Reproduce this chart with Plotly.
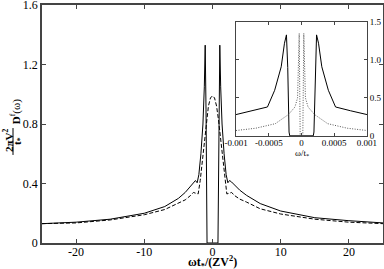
import plotly.graph_objects as go

# main panel: spectral function vs w t*/(Z V^2)
solid_x = [-25, -20, -15, -10, -7, -5, -4, -3.2, -2.8, -2.5, -2.25, -2.0, -1.7, -1.4, -1.2, -1.07,
           -0.95, -0.85, -0.8, 0.8, 0.85, 0.95, 1.07, 1.2, 1.4, 1.7, 2.0, 2.25, 2.5, 2.8, 3.2, 4,
           5, 7, 10, 15, 20, 25]
solid_y = [0.13, 0.14, 0.16, 0.2, 0.245, 0.3, 0.34, 0.385, 0.41, 0.42, 0.405, 0.46, 0.6, 0.8, 1.05, 1.33,
           0.9, 0.3, 0.0, 0.0, 0.3, 0.9, 1.33, 1.05, 0.8, 0.6, 0.46, 0.405, 0.42, 0.41, 0.39, 0.355,
           0.32, 0.265, 0.215, 0.17, 0.15, 0.135]

dash_x = [-25, -20, -15, -10, -7, -5, -4, -3.2, -2.8, -2.5, -2.1, -1.8, -1.5, -1.2, -0.9, -0.6, -0.3, 0,
          0.3, 0.6, 0.9, 1.2, 1.5, 1.8, 2.1, 2.5, 2.8, 3.2, 4, 5, 7, 10, 15, 20, 25]
dash_y = [0.13, 0.135, 0.155, 0.19, 0.225, 0.27, 0.29, 0.32, 0.34, 0.335, 0.33, 0.42, 0.55, 0.7, 0.82, 0.92, 0.975, 0.99,
          0.975, 0.92, 0.82, 0.7, 0.55, 0.42, 0.33, 0.335, 0.34, 0.32, 0.295, 0.275, 0.23, 0.195, 0.16, 0.14, 0.13]

# inset: w/t* close to zero
ins_solid_x = [-0.001, -0.00075, -0.00052, -0.00041, -0.00031, -0.00026, -0.00023, -0.00021, -0.0002,
               -0.00019, -0.00018, 0.00018, 0.00019, 0.0002, 0.00021, 0.00023, 0.00026, 0.00031,
               0.00041, 0.00052, 0.00075, 0.001]
ins_solid_y = [0.28, 0.33, 0.38, 0.6, 0.91, 1.22, 1.33, 0.9, 0.4, 0.05, 0.0, 0.0, 0.05, 0.4, 0.9,
               1.33, 1.22, 0.91, 0.6, 0.38, 0.33, 0.28]

ins_dot_x = [-0.001, -0.0007, -0.0004, -0.0002, -0.0001, -0.00006, -0.000035, -0.00002, 0.00002,
             0.000035, 0.00006, 0.0001, 0.0002, 0.0004, 0.0007, 0.001]
ins_dot_y = [0.07, 0.1, 0.16, 0.28, 0.38, 0.5, 1.35, 0.0, 0.0, 1.35, 0.5, 0.38, 0.28, 0.16, 0.1, 0.07]

main_xticks = [-20, -10, 0, 10, 20]
main_xlabels = ["-20", "-10", "0", "10", "20"]
main_yticks = [0, 0.4, 0.8, 1.2, 1.6]
main_ylabels = ["0", "0.4", "0.8", "1.2", "1.6"]
ins_xticks = [-0.001, -0.0005, 0, 0.0005, 0.001]
ins_xlabels = ["-0.001", "-0.0005", "0", "0.0005", "0.001"]
ins_yticks = [0, 0.5, 1, 1.5]
ins_ylabels = ["0", "0.5", "1.0", "1.5"]

FONT = "Liberation Serif"
AX = "#444"

fig = go.Figure()
fig.add_trace(go.Scatter(x=solid_x, y=solid_y, mode='lines', line=dict(color='black', width=1)))
fig.add_trace(go.Scatter(x=dash_x, y=dash_y, mode='lines', line=dict(color='black', width=1, dash='4px,2px')))
fig.add_trace(go.Scatter(x=ins_solid_x, y=ins_solid_y, mode='lines', xaxis='x2', yaxis='y2',
                         line=dict(color='black', width=1)))
fig.add_trace(go.Scatter(x=ins_dot_x, y=ins_dot_y, mode='lines', xaxis='x2', yaxis='y2',
                         line=dict(color='#555', width=1, dash='1px,1.5px')))

fig.update_layout(
    width=384, height=269, showlegend=False,
    margin=dict(l=42, r=1, t=5, b=26),
    plot_bgcolor='white', paper_bgcolor='white',
    font=dict(family=FONT, color='black', size=12),
    xaxis=dict(range=[-25, 25], tickvals=main_xticks, ticktext=main_xlabels, ticks='inside', ticklen=4,
               mirror='ticks', showline=True, linecolor=AX, linewidth=1.5, showgrid=False, zeroline=False,
               tickfont=dict(size=12), automargin=False, ticklabelstandoff=-3),
    yaxis=dict(range=[0, 1.6001], tickvals=main_yticks, ticktext=main_ylabels, ticks='inside', ticklen=4,
               mirror='ticks', showline=True, linecolor=AX, linewidth=1.5, showgrid=False, zeroline=False,
               tickfont=dict(size=12), automargin=False, ticklabeloverflow='allow'),
    xaxis2=dict(domain=[0.569, 0.953], anchor='y2', range=[-0.001, 0.001], tickvals=ins_xticks,
                ticktext=ins_xlabels, ticks='inside', ticklen=3, mirror='ticks', showline=True,
                linecolor=AX, linewidth=1, showgrid=False, zeroline=False, tickfont=dict(size=9),
                automargin=False, ticklabelstandoff=-2),
    yaxis2=dict(domain=[0.45, 0.929], anchor='x2', side='right', range=[-0.001, 1.501], tickvals=ins_yticks,
                ticktext=ins_ylabels, ticks='inside', ticklen=3, mirror='ticks', showline=True,
                linecolor=AX, linewidth=1, showgrid=False, zeroline=False, tickfont=dict(size=9),
                automargin=False, ticklabeloverflow='allow'),
)

# axis titles as annotations
fig.add_annotation(x=0.5, y=-0.082, xref='paper', yref='paper', showarrow=False, xanchor='center',
                   yanchor='middle', text='<b>ωt<sub>*</sub>/(ZV<sup>2</sup>)</b>', font=dict(size=12))
fig.add_annotation(x=0.761, y=0.378, xref='paper', yref='paper', showarrow=False, xanchor='center',
                   yanchor='middle', text='ω/t<sub>*</sub>', font=dict(size=9))
fig.add_annotation(x=-0.0997, y=0.4286, xref='paper', yref='paper', showarrow=False, textangle=-90,
                   xanchor='center', yanchor='middle', text='<b>2πV<sup>2</sup></b>', font=dict(size=11))
fig.add_annotation(x=-0.0704, y=0.4286, xref='paper', yref='paper', showarrow=False, textangle=-90,
                   xanchor='center', yanchor='middle', text='<b>t<sub>*</sub></b>', font=dict(size=11))
fig.add_annotation(x=-0.079, y=0.55, xref='paper', yref='paper', showarrow=False, textangle=-90,
                   xanchor='center', yanchor='middle', text='<b>D</b><sup>f</sup>(ω)', font=dict(size=11))
fig.add_shape(type='line', xref='paper', yref='paper', x0=-0.085, x1=-0.085, y0=0.37, y1=0.483,
              line=dict(color='black', width=1))

# drop the default page margin so the figure sits at the window's corner
fig.write_html("out.html", config={'displayModeBar': False},
               post_script="document.body.style.margin='0';")
